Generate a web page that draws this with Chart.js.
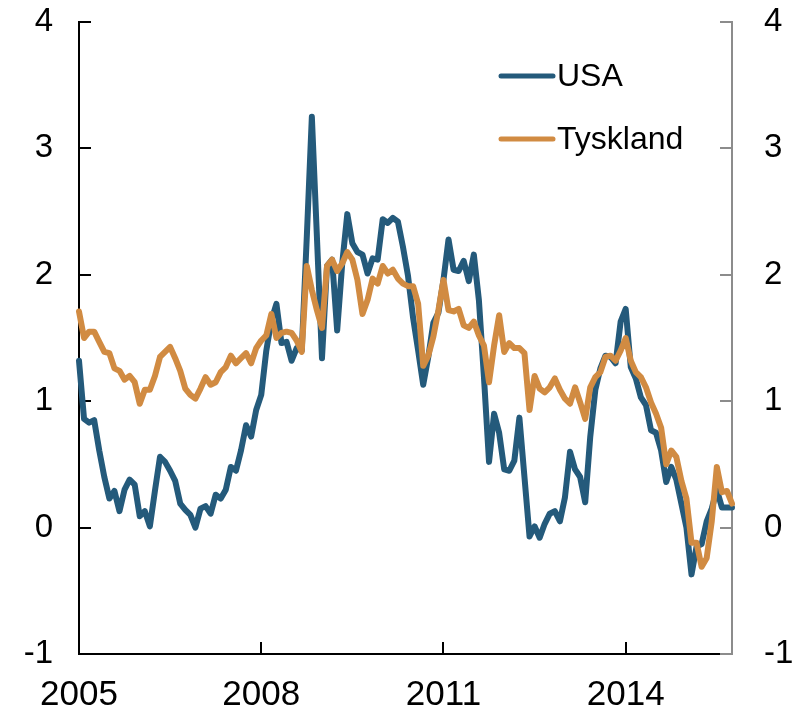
<!DOCTYPE html>
<html>
<head>
<meta charset="utf-8">
<script src="https://cdn.jsdelivr.net/npm/chart.js@4.4.1/dist/chart.umd.min.js"></script>
<style>
  html, body { margin: 0; padding: 0; background: #fff; }
</style>
</head>
<body>
<canvas id="chart" width="794" height="713"></canvas>
<script>
// Monthly values, Jan 2005 - Oct 2015
const usa = [
  1.32, 0.86, 0.83, 0.85, 0.61, 0.40, 0.23, 0.29, 0.13, 0.30, 0.38, 0.34,
  0.09, 0.13, 0.01, 0.29, 0.56, 0.52, 0.45, 0.37, 0.19, 0.14, 0.10, 0.00,
  0.15, 0.17, 0.11, 0.26, 0.23, 0.30, 0.48, 0.45, 0.61, 0.81, 0.72, 0.93,
  1.05, 1.40, 1.64, 1.77, 1.46, 1.47, 1.32, 1.42, 1.40, 2.30, 3.25, 2.30,
  1.34, 2.07, 2.12, 1.56, 2.09, 2.48, 2.25, 2.18, 2.16, 2.01, 2.13, 2.12,
  2.44, 2.41, 2.45, 2.42, 2.22, 1.99, 1.66, 1.40, 1.13, 1.35, 1.62, 1.70,
  1.96, 2.28, 2.04, 2.03, 2.11, 1.95, 2.16, 1.80, 1.19, 0.52, 0.90, 0.75,
  0.46, 0.45, 0.53, 0.87, 0.40, -0.07, 0.01, -0.08, 0.03, 0.11, 0.13, 0.05,
  0.24, 0.60, 0.46, 0.40, 0.20, 0.72, 1.09, 1.26, 1.36, 1.35, 1.30, 1.63,
  1.73, 1.27, 1.18, 1.03, 0.97, 0.77, 0.75, 0.61, 0.36, 0.48, 0.38, 0.19,
  0.00, -0.37, -0.15, -0.13, 0.05, 0.15, 0.30, 0.16, 0.16, 0.16
];
const tyskland = [
  1.71, 1.50, 1.55, 1.55, 1.47, 1.39, 1.38, 1.26, 1.24, 1.17, 1.20, 1.15,
  0.98, 1.09, 1.09, 1.20, 1.35, 1.39, 1.43, 1.34, 1.24, 1.10, 1.05, 1.02,
  1.10, 1.19, 1.13, 1.15, 1.23, 1.27, 1.36, 1.30, 1.34, 1.38, 1.30, 1.42,
  1.48, 1.52, 1.69, 1.50, 1.54, 1.55, 1.54, 1.48, 1.39, 2.07, 1.88, 1.72,
  1.58, 2.07, 2.12, 2.03, 2.09, 2.18, 2.12, 1.96, 1.69, 1.80, 1.97, 1.93,
  2.07, 2.01, 2.04, 1.97, 1.93, 1.91, 1.91, 1.77, 1.28, 1.36, 1.51, 1.72,
  1.96, 1.72, 1.71, 1.73, 1.60, 1.58, 1.63, 1.52, 1.44, 1.15, 1.44, 1.68,
  1.39, 1.46, 1.42, 1.42, 1.38, 0.93, 1.20, 1.10, 1.07, 1.11, 1.18, 1.09,
  1.02, 0.98, 1.11, 0.99, 0.86, 1.11, 1.19, 1.23, 1.35, 1.36, 1.32, 1.40,
  1.50, 1.32, 1.23, 1.19, 1.11, 0.99, 0.90, 0.79, 0.50, 0.61, 0.56, 0.37,
  0.23, -0.12, -0.12, -0.31, -0.24, 0.05, 0.48, 0.28, 0.29, 0.19
];
const yearTicks = ['2005', '2008', '2011', '2014'];
const yTicks = [4, 3, 2, 1, 0, -1];

const months = [];
for (let i = 0; i < usa.length; i++) {
  const yr = 2005 + Math.floor(i / 12);
  const m = (i % 12) + 1;
  months.push(yr + '-' + String(m).padStart(2, '0'));
}
const isYearTick = (lab) => lab.endsWith('-01') && yearTicks.includes(lab.slice(0, 4));

const FONT = "'Liberation Sans', Arial, sans-serif";
const BLUE = '#245a7b';
const ORANGE = '#d18b42';
const GREY = '#8c8c8c';

// Inward tick marks on all three axes
const tickMarks = {
  id: 'tickMarks',
  beforeDatasetsDraw(chart) {
    const { ctx, chartArea: a, scales } = chart;
    ctx.save();
    ctx.lineWidth = 2;
    ctx.strokeStyle = '#000';
    ctx.beginPath();
    yTicks.forEach(v => {
      const py = Math.round(scales.y.getPixelForValue(v));
      ctx.moveTo(a.left, py);
      ctx.lineTo(a.left + 12, py);
    });
    months.forEach((lab, i) => {
      if (isYearTick(lab) && i > 0) {
        const px = Math.round(scales.x.getPixelForValue(i));
        ctx.moveTo(px, a.bottom);
        ctx.lineTo(px, a.bottom - 12);
      }
    });
    ctx.stroke();
    ctx.strokeStyle = GREY;
    ctx.beginPath();
    yTicks.forEach(v => {
      const py = Math.round(scales.y2.getPixelForValue(v));
      ctx.moveTo(a.right, py);
      ctx.lineTo(a.right - 12, py);
    });
    ctx.stroke();
    ctx.restore();
  }
};

// Legend inside the plot, top right
const innerLegend = {
  id: 'innerLegend',
  afterDatasetsDraw(chart) {
    const { ctx } = chart;
    const rows = [
      { label: chart.data.datasets[0].label, color: chart.data.datasets[0].borderColor, y: 76 },
      { label: chart.data.datasets[1].label, color: chart.data.datasets[1].borderColor, y: 139 }
    ];
    ctx.save();
    ctx.lineCap = 'round';
    ctx.lineWidth = 5;
    ctx.font = '32px ' + FONT;
    ctx.textBaseline = 'middle';
    ctx.fillStyle = '#000';
    rows.forEach(r => {
      ctx.strokeStyle = r.color;
      ctx.beginPath();
      ctx.moveTo(501, r.y);
      ctx.lineTo(553, r.y);
      ctx.stroke();
      ctx.fillText(r.label, 557, r.y + 1);
    });
    ctx.restore();
  }
};

function fixY(width) {
  return function(scale) {
    scale.width = width;
    scale.paddingTop = 0;
    scale.paddingBottom = 0;
  };
}

new Chart(document.getElementById('chart'), {
  type: 'line',
  data: {
    labels: months,
    datasets: [
      {
        label: 'USA',
        data: usa,
        borderColor: BLUE,
        borderWidth: 6,
        borderJoinStyle: 'round',
        borderCapStyle: 'round',
        pointRadius: 0,
        tension: 0,
        order: 1
      },
      {
        label: 'Tyskland',
        data: tyskland,
        borderColor: ORANGE,
        borderWidth: 6,
        borderJoinStyle: 'round',
        borderCapStyle: 'round',
        pointRadius: 0,
        tension: 0,
        order: 0
      }
    ]
  },
  options: {
    responsive: false,
    animation: false,
    layout: { padding: { top: 22, left: 0, right: 0, bottom: 0 } },
    plugins: {
      legend: { display: false },
      tooltip: { enabled: false }
    },
    scales: {
      x: {
        type: 'category',
        grid: { display: false, drawTicks: false },
        border: { display: true, color: '#000', width: 2 },
        ticks: {
          autoSkip: false,
          maxRotation: 0,
          padding: 20,
          color: '#000',
          font: { family: FONT, size: 35 },
          callback: function(val, idx) {
            const lab = months[idx];
            return isYearTick(lab) ? lab.slice(0, 4) : '';
          }
        },
        afterFit: function(scale) {
          scale.height = 59;
          scale.paddingLeft = 0;
          scale.paddingRight = 0;
        }
      },
      y: {
        position: 'left',
        min: -1,
        max: 4,
        grid: { display: false, drawTicks: false },
        border: { display: true, color: '#000', width: 2 },
        ticks: {
          stepSize: 1,
          padding: 26,
          color: '#000',
          font: { family: FONT, size: 33 }
        },
        afterFit: fixY(79)
      },
      y2: {
        position: 'right',
        min: -1,
        max: 4,
        grid: { display: false, drawTicks: false },
        border: { display: true, color: GREY, width: 2 },
        ticks: {
          stepSize: 1,
          padding: 32,
          color: '#000',
          font: { family: FONT, size: 33 }
        },
        afterFit: fixY(62)
      }
    }
  },
  plugins: [tickMarks, innerLegend]
});
</script>
</body>
</html>
